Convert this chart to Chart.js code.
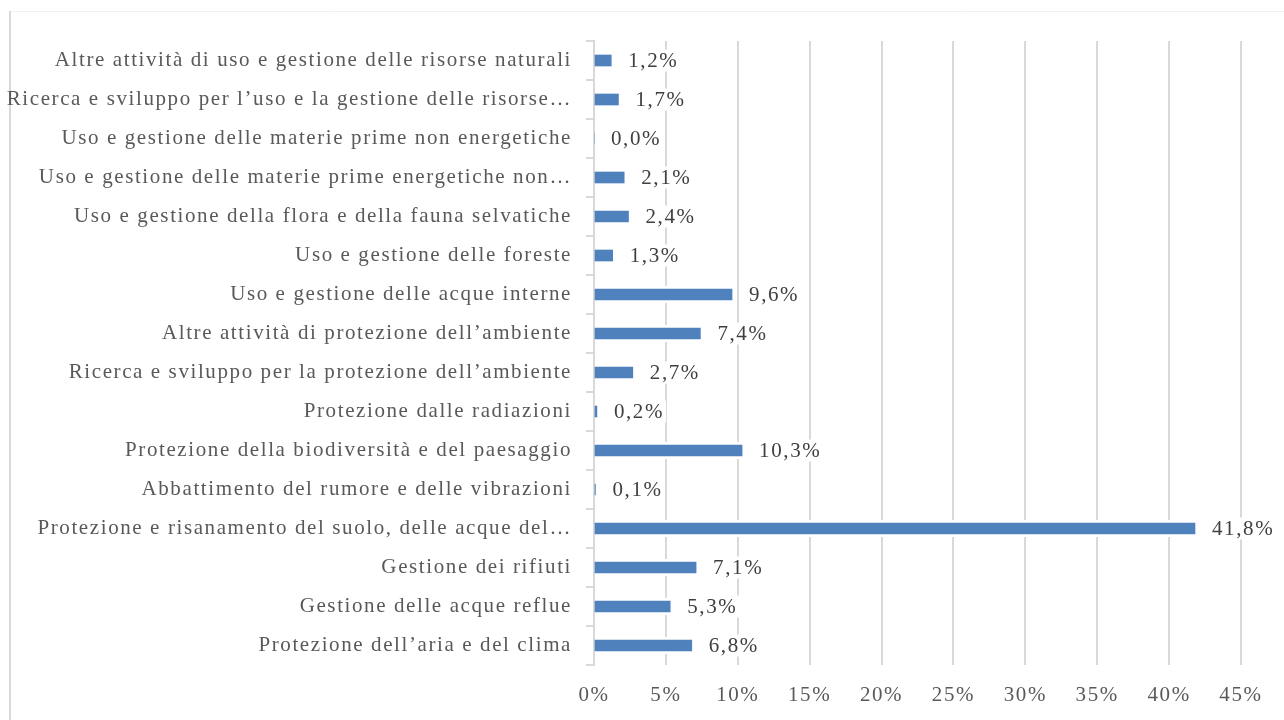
<!DOCTYPE html>
<html>
<head>
<meta charset="utf-8">
<script src="https://cdn.jsdelivr.net/npm/chart.js@4.4.1/dist/chart.umd.min.js"></script>
<style>
  html, body { margin: 0; padding: 0; background: #ffffff; }
  #wrap { position: relative; width: 1284px; height: 720px; }
  canvas { display: block; }
</style>
</head>
<body>
<div id="wrap"><canvas id="c" width="1284" height="720"></canvas></div>
<script>
const categories = [
  "Altre attività di uso e gestione delle risorse naturali",
  "Ricerca e sviluppo per l’uso e la gestione delle risorse…",
  "Uso e gestione delle materie prime non energetiche",
  "Uso e gestione delle materie prime energetiche non…",
  "Uso e gestione della flora e della fauna selvatiche",
  "Uso e gestione delle foreste",
  "Uso e gestione delle acque interne",
  "Altre attività di protezione dell’ambiente",
  "Ricerca e sviluppo per la protezione dell’ambiente",
  "Protezione dalle radiazioni",
  "Protezione della biodiversità e del paesaggio",
  "Abbattimento del rumore e delle vibrazioni",
  "Protezione e risanamento del suolo, delle acque del…",
  "Gestione dei rifiuti",
  "Gestione delle acque reflue",
  "Protezione dell’aria e del clima"
];
const shares = [1.2, 1.7, 0.0, 2.1, 2.4, 1.3, 9.6, 7.4, 2.7, 0.2, 10.3, 0.1, 41.8, 7.1, 5.3, 6.8];
const xTickMax = 45;
const xTickStep = 5;

const FONT = "'Liberation Serif', 'Times New Roman', serif";
const FSIZE = 21;
const SPACING = '1.6px';

const spacing = {
  id: 'spacing',
  beforeUpdate(chart) { chart.ctx.letterSpacing = SPACING; },
  beforeLayout(chart) { chart.ctx.letterSpacing = SPACING; },
  beforeDraw(chart) { chart.ctx.letterSpacing = SPACING; }
};

const frame = {
  id: 'frame',
  beforeDraw(chart) {
    const ctx = chart.ctx;
    ctx.save();
    ctx.fillStyle = '#ffffff';
    ctx.fillRect(0, 0, chart.width, chart.height);
    ctx.strokeStyle = '#f0f0f0';
    ctx.lineWidth = 1;
    ctx.beginPath();
    ctx.moveTo(10, 11.5); ctx.lineTo(chart.width, 11.5);
    ctx.stroke();
    ctx.strokeStyle = '#d9d9d9';
    ctx.lineWidth = 2;
    ctx.beginPath();
    ctx.moveTo(10, 11); ctx.lineTo(10, chart.height);
    ctx.stroke();
    ctx.restore();
  }
};

const halo = {
  id: 'halo',
  beforeDatasetsDraw(chart) {
    const ctx = chart.ctx;
    const meta = chart.getDatasetMeta(0);
    ctx.save();
    ctx.fillStyle = '#ffffff';
    meta.data.forEach((bar, i) => {
      if (shares[i] <= 0) return;
      const h = bar.height;
      ctx.fillRect(bar.base + 1, bar.y - h / 2 - 3, bar.x - bar.base + 1, h + 6);
    });
    ctx.restore();
  }
};

const valueLabels = {
  id: 'valueLabels',
  afterDatasetsDraw(chart) {
    const ctx = chart.ctx;
    const meta = chart.getDatasetMeta(0);
    ctx.save();
    ctx.letterSpacing = SPACING;
    ctx.font = FSIZE + 'px ' + FONT;
    ctx.textAlign = 'left';
    ctx.textBaseline = 'middle';
    meta.data.forEach((bar, i) => {
      const txt = shares[i].toFixed(1).replace('.', ',') + '%';
      const x = bar.x + 17;
      const w = ctx.measureText(txt).width;
      ctx.fillStyle = '#ffffff';
      ctx.fillRect(x - 2, bar.y - 11, w + 4, 22);
      ctx.fillStyle = '#404040';
      ctx.fillText(txt, x, bar.y + 1);
    });
    ctx.restore();
  }
};

new Chart(document.getElementById('c'), {
  type: 'bar',
  data: {
    labels: categories,
    datasets: [{
      data: shares,
      backgroundColor: '#4f81bd',
      borderWidth: 0,
      barThickness: 11
    }]
  },
  options: {
    indexAxis: 'y',
    responsive: false,
    animation: false,
    devicePixelRatio: 1,
    layout: { padding: { top: 41, right: 43, bottom: 0, left: 0 } },
    plugins: { legend: { display: false }, tooltip: { enabled: false } },
    scales: {
      x: {
        min: 0,
        max: xTickMax,
        afterFit(scale) { scale.height = 55; },
        ticks: {
          stepSize: xTickStep,
          color: '#595959',
          font: { family: FONT, size: FSIZE },
          padding: 18,
          callback: v => v + '%'
        },
        grid: { color: '#d9d9d9', lineWidth: 2, tickLength: 0, drawTicks: false },
        border: { display: false }
      },
      y: {
        afterFit(scale) { scale.width = 594; },
        ticks: {
          color: '#595959',
          font: { family: FONT, size: FSIZE },
          padding: 14,
          autoSkip: false
        },
        grid: { drawOnChartArea: false, color: '#d9d9d9', lineWidth: 2, tickLength: 8, offset: true },
        border: { display: true, color: '#d9d9d9', width: 2 }
      }
    }
  },
  plugins: [spacing, frame, halo, valueLabels]
});
</script>
</body>
</html>
